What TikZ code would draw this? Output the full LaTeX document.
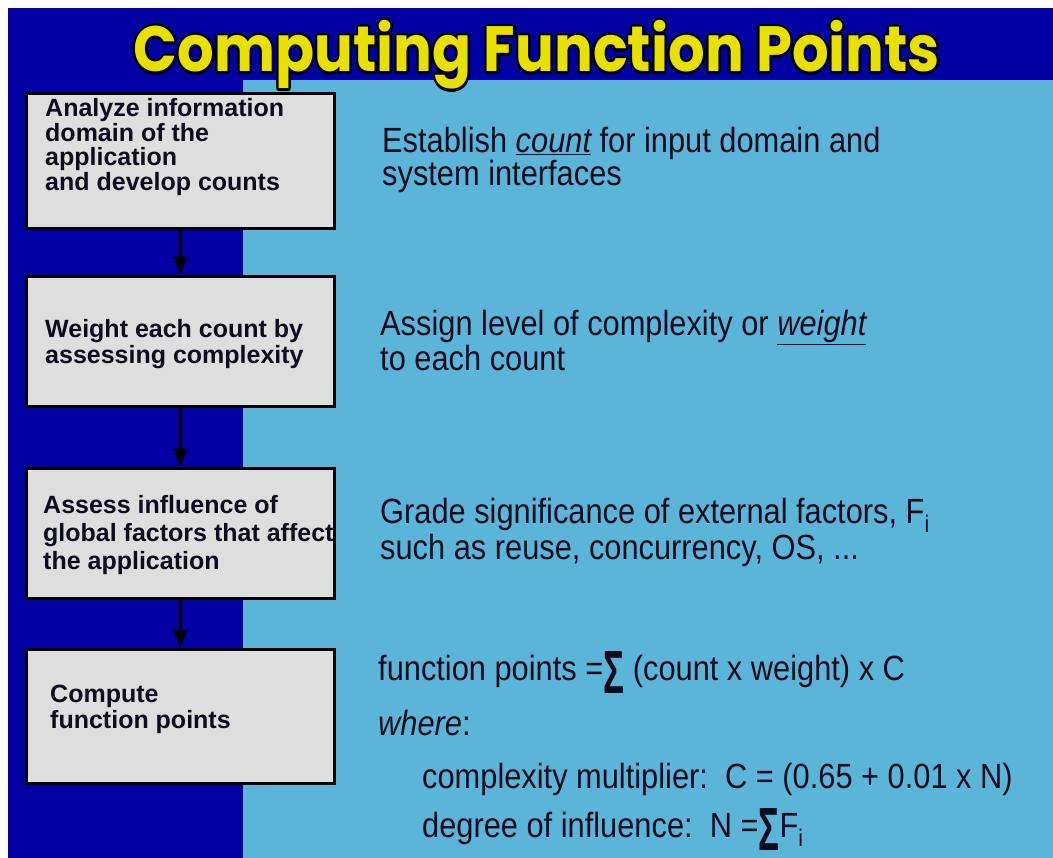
\documentclass[tikz,border=0pt]{standalone}
\usepackage{fontspec}
\usepackage{graphicx}
\usepackage{contour}
\usetikzlibrary{arrows.meta,positioning}
\setmainfont{Liberation Sans}
\newfontfamily\slidefont[FakeStretch=0.88]{Liberation Sans}
\newfontfamily\titlefont[FakeStretch=0.9]{Poppins}
\definecolor{slideblue}{RGB}{0,0,163}
\definecolor{paneblue}{RGB}{91,181,216}
\definecolor{boxgray}{RGB}{222,222,222}
\definecolor{titleyellow}{RGB}{232,224,0}
\definecolor{ink}{RGB}{12,12,30}
\contourlength{2.2pt}
\newcommand{\bigsum}{\raisebox{-13pt}{\scalebox{0.65}[1]{\fontsize{61}{61}\selectfont\bfseries Σ}}}
\newcommand{\subi}{\raisebox{-9pt}{\fontsize{24}{24}\selectfont i}}

\begin{document}
\begin{tikzpicture}[x=1pt,y=-1pt]
	\useasboundingbox (0,0) rectangle (1053,858);
	\fill[white] (0,0) rectangle (1053,858);
	\fill[slideblue] (8,8) rectangle (1053,858);
	\fill[paneblue] (243,80) rectangle (1053,858);

	\node[anchor=base,inner sep=0,text=titleyellow,font=\titlefont\bfseries\fontsize{64}{64}\selectfont] (title) at (537,72) {\contour{black}{Computing Function Points}};

	\begin{scope}[every node/.style={rectangle,draw=black,line width=3pt,fill=boxgray,minimum width=308pt}]
		\node[minimum height=135pt] (B1) at (180.5,161) {};
		\node[minimum height=130pt,below =45pt of B1] (B2) {};
		\node[minimum height=130pt,below =59pt of B2] (B3) {};
		\node[minimum height=134pt,below =48pt of B3] (B4) {};
	\end{scope}

	% multi-line nodes: base anchor sits on the last line
	\begin{scope}[every node/.style={anchor=base west,inner sep=0,align=left,text=ink,font=\bfseries\fontsize{25}{24.5}\selectfont}]
		\node (T1) at (45,190.5) {Analyze information\\domain of the\\application\\and develop counts};
		\node[font=\bfseries\fontsize{25}{26}\selectfont] (T2) at (45,364) {Weight each count by\\assessing complexity};
		\node[font=\bfseries\fontsize{25}{28}\selectfont] (T3) at (43,569) {Assess influence of\\global factors that affect\\the application};
		\node[font=\bfseries\fontsize{25}{26}\selectfont] (T4) at (50,728) {Compute\\function points};
	\end{scope}

	\begin{scope}[every node/.style={anchor=base west,inner sep=0,align=left,text=ink,font=\slidefont\fontsize{35}{29}\selectfont}]
		\node (count) at (382,186) {Establish \underline{\itshape count} for input domain and\\system interfaces};
		\node (weight) at (380,371) {Assign level of complexity or \underline{\itshape weight}\\to each count};
		\node (grade) at (380,559) {Grade significance of external factors, F\subi\\such as reuse, concurrency, OS, ...};
		\node (fp) at (378,680) {function points =\bigsum\ (count x weight) x C};
		\node (where) at (378,735) {{\itshape where}:};
		\node (mult) at (422,788) {complexity multiplier:\ \ C = (0.65 + 0.01 x N)};
		\node (infl) at (422,837) {degree of influence:\ \ N =\bigsum F\subi};
	\end{scope}

	\begin{scope}[line width=3pt]
	\draw[-{Triangle[length=18pt,width=13pt]}] (B1.south) -- (B2.north);
	\draw[-{Triangle[length=18pt,width=13pt]}] (B2.south) -- (B3.north);
	\draw[-{Triangle[length=18pt,width=13pt]}] (B3.south) -- (B4.north);
	\end{scope}
\end{tikzpicture}
\end{document}
